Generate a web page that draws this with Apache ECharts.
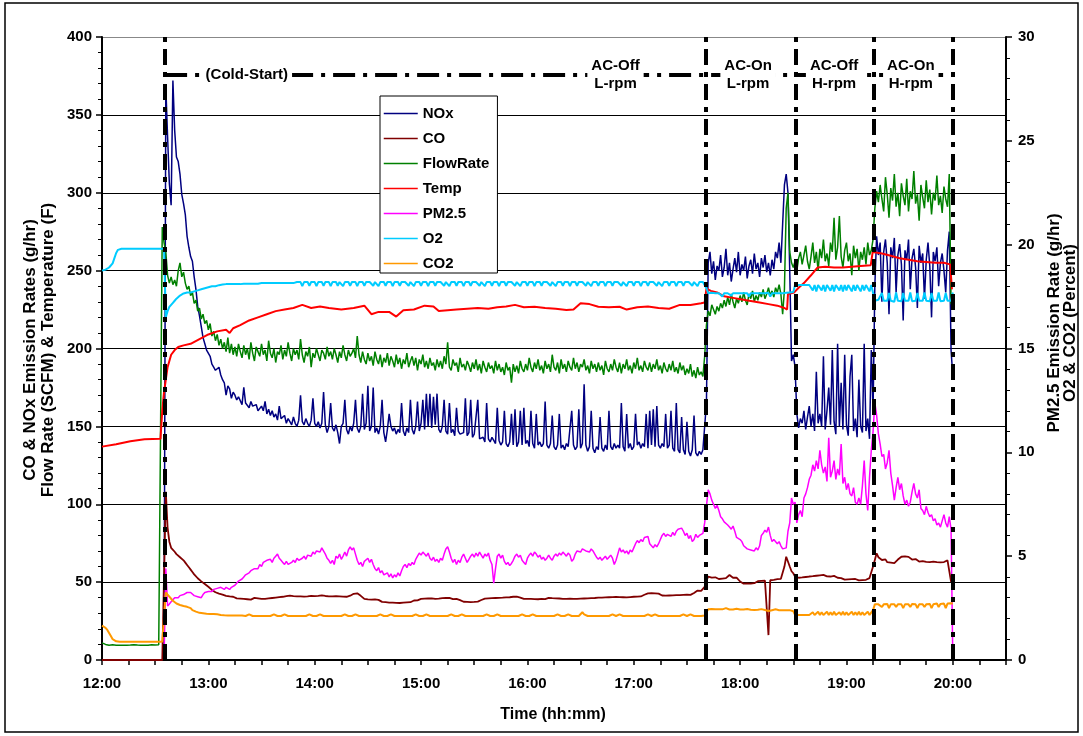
<!DOCTYPE html>
<html><head><meta charset="utf-8">
<script src="https://cdn.jsdelivr.net/npm/echarts@6/dist/echarts.min.js"></script>
<style>html,body{margin:0;padding:0;background:#fff}#c{width:1083px;height:736px}</style>
</head><body><div id="c"></div>
<script>
const FONT = '"Liberation Sans", Arial, Helvetica, sans-serif';

// x categories: minutes after 12:00, one reading per minute (12:00 .. 20:00)
const minutes = Array.from({length: 481}, (_, i) => i);
const hourLabels = ['12:00','13:00','14:00','15:00','16:00','17:00','18:00','19:00','20:00'];
const seriesNames = ['NOx','CO','FlowRate','Temp','PM2.5','O2','CO2'];
const seriesColors = ['#000080','#800000','#008000','#FF0000','#FF00FF','#00CCFF','#FF9900'];

// NOx (g/hr), left axis
const noxValues = [
null,null,null,null,null,null,null,null,null,null,
null,null,null,null,null,null,null,null,null,null,
null,null,null,null,null,null,null,null,null,null,
null,null,null,null,0,2,368,336,306,292,
372,340,323,320,312,299,293,286,272,265,
259,256,246,238,227,221,214,207,203,199,
198,195,190,188,186,185,188,183,180,178,
170,176,174,168,172,170,167,169,168,164,
175,165,164,162,166,163,162,164,160,161,
163,160,166,158,161,157,160,156,158,154,
163,155,154,157,152,155,153,151,156,152,
150,154,170,153,151,155,152,150,154,168,
152,150,153,149,152,172,151,146,150,165,
149,147,151,146,139,150,152,167,148,145,
150,147,152,167,149,146,150,171,148,152,
176,147,150,175,146,149,145,150,167,146,
140,148,158,150,147,149,145,148,146,165,
147,144,149,146,167,148,145,150,166,147,
152,167,148,171,150,171,149,169,151,171,
148,146,150,167,147,145,165,146,148,144,
162,147,145,144,146,168,144,146,167,143,
145,144,167,142,141,143,140,165,142,140,
143,141,139,162,141,138,140,160,139,137,
140,158,138,161,137,140,160,138,162,139,
141,137,160,139,136,158,138,140,137,139,
166,138,136,139,157,137,135,138,158,136,
138,135,139,137,136,160,138,135,137,161,
136,139,177,138,134,137,160,136,133,137,
135,156,136,134,138,135,160,137,135,139,
136,138,136,165,137,134,158,136,139,135,
137,158,138,140,136,139,137,158,136,160,
138,161,137,163,138,136,139,137,158,136,
138,160,136,134,165,135,133,156,135,132,
153,134,131,135,157,133,131,134,132,135,
136,165,255,262,248,256,244,253,250,260,
246,252,264,247,255,243,251,258,249,262,
247,254,250,259,245,253,257,248,261,251,
255,246,258,252,260,249,255,247,257,251,
262,258,268,255,280,305,312,300,250,192,
196,188,158,149,155,152,160,148,156,163,
150,158,147,185,152,158,150,195,148,160,
175,151,199,153,145,203,150,178,148,196,
151,144,182,196,147,155,143,180,150,146,
203,147,155,142,199,160,240,272,260,268,
230,262,270,255,222,265,258,271,236,260,
267,254,218,263,257,270,238,258,264,252,
226,266,255,261,232,257,268,253,220,262,
256,265,240,255,261,250,236,263,275,199,
182];

// CO (g/hr), left axis
const coValues = [
0,0,0,0,0,0,0,0,0,0,
0,0,0,0,0,0,0,0,0,0,
0,0,0,0,0,0,0,0,0,0,
0,0,0,0,0,0,108,85,76,72,
71,69.5,68,67,66,65,64,62.5,61,59.5,
58,56.5,55,54,52.5,51.5,50.5,49.8,48.8,47.8,
47,46,45,44.2,43.5,43,42.6,42.3,42,41.5,
41.2,41,40.8,40.4,40.6,40,39.6,40,39.4,39.8,
39.2,39.6,39,39.5,38.8,39.4,39.9,39.1,39.6,38.9,
39.3,39.8,39.2,40,39.5,40.3,39.8,40.5,40.1,40.8,
40.4,41.2,40.6,41.5,41,42,41.3,41.8,41,40.5,
40.8,40.2,40.9,41.4,40.7,41.3,40.9,41.8,41.2,41.6,
41,41.7,41.2,42,41.5,41.9,41.1,40.6,40.9,40.3,
40.8,40.2,41,40.5,40.9,40.3,40.7,40.1,40.6,40.9,
41.3,41.9,42.5,42.2,42.8,42.1,41.2,40.1,39.2,38.7,
38.9,38.3,38.8,38.4,38.9,38.2,38.6,37.8,37.3,37.7,
37.1,37.5,36.9,37.4,36.8,37.3,36.7,37.2,36.6,37.1,
36.8,37.4,37.0,37.6,37.1,37.8,38.2,38.7,38.3,38.9,
39.2,38.8,39.4,38.9,39.5,39.0,39.6,39.1,39.3,38.8,
39.4,39.0,39.7,39.2,39.8,39.3,39.9,39.4,39.1,39.6,
39.2,38.8,38.4,37.8,37.4,37.9,37.3,37.8,37.2,37.7,
37.3,37.9,37.5,38.0,38.5,39.0,39.4,39.1,39.6,39.3,
39.7,39.2,39.8,39.4,39.9,39.5,40.0,39.6,40.2,39.8,
40.3,40.0,40.6,40.2,40.7,40.3,40.1,39.6,39.2,39.7,
39.3,39.8,39.2,39.6,39.1,39.5,39.0,39.6,39.2,39.7,
39.1,39.5,39.9,39.3,39.7,39.2,39.6,39.1,39.5,39.8,
39.3,39.7,39.2,39.8,39.4,39.9,39.3,39.7,39.2,39.6,
39.4,39.9,39.5,40.0,39.6,40.1,39.7,40.2,39.8,40.3,
40.0,40.5,40.1,40.6,40.2,40.7,40.3,40.8,40.4,40.9,
40.5,40.9,40.4,40.8,40.3,40.7,40.2,40.8,40.4,40.9,
40.6,41.1,40.7,41.2,40.8,41.5,41.9,42.4,42.8,42.3,
42.9,42.4,42.8,42.2,42.6,41.9,41.4,41.9,41.3,41.8,
41.4,41.9,41.5,42.0,41.6,42.1,41.7,42.2,41.8,42.3,
41.9,42.4,41.8,42.2,43.0,43.8,44.6,45.0,44.4,44.2,
47,51,53.5,52.4,52.9,52.2,53.1,52.5,52.0,52.8,
52.3,53.0,52.6,53.4,54.6,53.5,52.8,52.4,52.9,51.8,
50.4,49.6,49.0,48.6,49.2,48.4,49.0,48.5,49.3,49.8,
50.6,51.2,50.8,51.4,51.0,51.6,16,51.2,52.0,51.5,
52.4,51.9,52.6,52.1,53.0,60,66.3,65.5,60,57,
55.7,53.5,52.4,52.8,52.2,53.0,52.5,53.3,54.0,53.6,
54.3,53.8,54.6,54.1,53.5,54.4,53.9,54.7,54.2,53.7,
54.5,53.6,53.2,54.0,53.4,52.8,53.5,52.6,52.0,51.6,
51.2,51.8,51.3,51.9,51.4,52.0,51.5,51.1,51.7,51.3,
51.9,51.5,52.2,52.6,53.5,60,64.2,68.5,66,65,
64.2,63.5,64.6,62.8,63.9,62.5,63.4,62.2,63.0,64.5,
65.5,66.3,65.8,66.5,65.6,66.2,65.0,64.5,63.8,64.8,
64.0,63.2,64.3,63.5,64.1,63.0,63.8,62.9,63.6,63.1,
63.7,62.8,63.4,62.7,63.5,62.9,63.3,64.0,65.0,50.3,
50];

// Flow rate (SCFM), left axis
const flowValues = [
11,10.5,10,10,9.5,9.5,9.8,9.5,9.5,9.8,
9.5,9.6,9.5,9.8,9.5,9.5,9.6,9.5,9.8,9.5,
9.6,9.5,9.5,9.8,9.5,9.6,9.5,9.5,9.8,9.5,
9.6,9.5,9.8,10,278,268,262,247,242,246,
241,244,240,250,255,246,249,242,238,240,
234,236,229,231,224,226,219,222,216,218,
212,216,208,211,205,209,202,206,200,204,
198,207,197,203,196,201,195,203,198,194,
202,196,200,193,204,197,192,201,198,195,
203,196,199,192,205,197,194,200,191,198,
196,202,193,199,195,204,197,192,200,196,
199,193,206,196,191,198,195,201,188,197,
194,200,196,192,199,197,193,201,195,198,
193,200,196,191,198,194,202,196,192,199,
195,197,200,194,208,196,191,198,193,190,
197,192,195,189,198,193,190,196,188,194,
191,197,189,195,192,188,196,190,194,187,
193,190,197,188,192,195,189,194,186,193,
190,196,188,192,187,194,189,191,186,193,
188,192,187,195,190,204,188,186,193,189,
191,185,194,188,190,186,192,189,185,191,
187,193,186,190,184,192,188,185,191,187,
189,184,192,186,190,185,188,183,191,186,
188,178,190,185,189,184,192,187,185,190,
186,194,188,185,191,187,193,186,189,184,
192,187,190,185,196,188,186,191,184,193,
187,190,185,192,188,186,194,187,191,185,
190,188,193,186,189,184,192,187,190,185,
191,186,189,183,192,187,185,190,186,193,
188,185,191,184,190,187,193,186,189,184,
191,187,194,186,189,185,192,188,186,191,
185,190,187,193,186,189,184,191,187,185,
190,186,192,185,188,184,191,186,189,183,
187,184,190,182,186,181,188,183,185,182,
195,215,224,221,228,225,222,227,224,229,
226,231,227,233,228,235,230,226,232,229,
234,230,236,231,228,235,232,237,230,234,
231,236,233,238,232,235,239,234,237,233,
239,236,241,235,222,238,290,300,262,255,
252,256,250,258,262,254,260,266,256,251,
259,268,255,262,250,264,258,270,256,261,
253,268,262,284,257,265,285,259,252,263,
268,256,261,247,266,258,264,250,262,257,
265,254,268,260,263,270,290,301,294,305,
296,288,310,299,284,303,295,312,291,300,
285,306,298,292,309,288,301,296,314,293,
299,282,305,297,290,308,294,302,286,300,
295,311,292,298,287,304,296,291,312,229,
226];

// Exhaust temperature (F), left axis: read at irregular times (minutes after 12:00)
const tempTimes = [0,8,16,24,33,34,35,36,37,39,41,43,46,50,55,60,65,70,72,74,78,83,88,93,98,103,108,113,118,123,128,135,142,148,152,156,162,166,170,176,182,187,190,195,200,206,212,218,223,228,233,238,244,250,256,262,266,270,275,280,286,292,296,302,308,314,320,326,332,338,340,341,343.5,347,351,356,361,366,371,376,381,385,386.5,387,390.5,393,396,400,403.6,408,413,418,423,428,433.7,434.8,440,445,450,455,460,465,470,475,478.5,479.5];
const tempValues = [137,138.5,140.5,141.8,142,160,172,180,188,196,199,201,202,203,206,209,211,212,210,213,215,218,220,222,224,225,226,228,226,227,226,225,226,227.5,222,223.5,223.5,220.5,224.5,225,227.5,227,224,224.5,225,225.5,226,225.5,226.5,227,228,226.5,226.8,226,225.5,224.7,225,229,228.5,226.8,226.5,226.8,225,226.5,227,226,225.5,228,228,229,229.5,238.5,237,236,233.5,232.5,231.5,230.5,229.5,228.5,227.5,226,225,235,236,239,242,247,252,252.5,252,252,252.5,253,253.5,262,261,259.5,258,257,256,255.5,255,255,254,238];

// PM2.5 (g/hr), right axis
const pmValues = [
null,null,null,null,null,null,null,null,null,null,
null,null,null,null,null,null,null,null,null,null,
null,null,null,null,null,null,null,null,null,null,
null,null,null,null,null,0,4.4,2.6,2.7,2.8,
2.9,3.0,2.95,3.0,3.1,3.1,3.15,3.2,3.25,3.2,
3.25,3.2,3.1,3.15,3.05,3.1,3.0,3.15,3.25,3.2,
3.3,3.25,3.3,3.4,3.35,3.45,3.4,3.5,3.45,3.4,
3.5,3.45,3.4,3.5,3.45,3.6,3.7,3.8,3.85,3.9,
4.0,4.1,4.05,4.2,4.3,4.25,4.4,4.45,4.4,4.6,
4.5,4.7,4.65,4.8,4.75,4.85,4.7,4.9,5.0,5.1,
4.9,4.8,4.7,4.6,4.75,4.6,4.55,4.7,4.8,4.7,
4.9,4.8,4.75,4.9,5.0,4.85,5.05,5.1,5.0,5.2,
5.1,5.25,5.3,5.2,5.4,5.35,5.1,4.9,4.8,4.65,
4.8,4.6,5.0,4.9,5.1,4.85,5.0,5.2,5.0,5.3,
5.45,5.3,5.4,5.1,4.8,4.6,4.7,4.5,4.75,4.8,
4.9,4.7,4.85,4.6,4.4,4.3,4.45,4.2,4.3,4.1,
4.05,4.2,4.0,4.15,3.95,4.1,4.0,4.2,4.05,4.3,
4.5,4.6,4.45,4.65,4.55,4.7,4.6,4.85,5.0,5.15,
5.05,5.2,5.1,5.0,5.15,4.9,4.8,4.95,4.75,4.85,
4.7,4.9,4.8,5.1,5.35,5.45,5.2,4.9,4.7,4.85,
4.6,4.8,4.7,4.95,5.1,4.9,4.7,4.85,5.0,5.1,
4.95,5.15,5.0,5.2,5.05,4.9,5.1,5.0,5.15,4.8,
4.6,3.7,4.4,5.0,5.1,4.9,5.05,4.75,4.6,4.7,
4.55,4.65,4.8,5.0,5.1,4.95,5.05,4.8,4.7,4.6,
4.9,5.05,5.15,5.0,5.2,5.1,4.95,5.05,4.85,4.95,
4.8,4.9,5.05,4.9,4.8,5.0,5.1,5.0,5.15,5.05,
5.2,5.1,5.0,5.15,5.05,4.75,4.85,5.1,5.25,5.3,
5.2,5.35,5.4,5.25,5.3,5.2,5.35,5.25,5.1,4.95,
4.85,4.95,4.8,4.9,5.0,4.85,4.95,5.05,4.9,4.6,
4.8,5.1,5.4,5.2,5.3,5.15,5.25,5.1,5.3,5.2,
5.4,5.6,5.75,5.65,5.8,5.7,5.9,5.85,5.95,5.6,
5.5,5.4,5.55,5.45,5.6,5.8,6.0,6.1,5.95,6.05,
6.1,5.95,6.15,6.0,6.2,6.3,6.25,6.35,6.2,6.0,
6.1,5.85,6.0,5.7,5.8,6.05,5.9,6.0,5.95,6.1,
6.6,7.4,8.2,8.0,7.7,7.5,7.3,7.45,7.2,6.9,
6.8,6.65,6.7,6.5,6.4,6.3,6.45,6.2,5.9,5.85,
5.8,5.7,5.5,5.45,5.35,5.4,5.3,5.35,5.25,5.4,
5.3,5.5,6.0,6.1,6.25,6.15,6.4,6.0,5.7,5.8,
5.75,5.6,5.7,5.5,5.35,5.3,5.4,6.2,6.6,7.8,
7.5,7.6,6.6,7.0,7.2,6.9,7.8,8.0,8.3,8.7,
8.9,9.4,9.1,9.6,9.2,10.1,9.4,9.0,9.3,8.6,
10.7,8.8,9.1,9.6,8.7,9.2,8.9,10.4,8.5,8.8,
8.2,8.5,8.0,7.9,8.3,7.6,7.5,7.8,7.5,8.4,
9.6,8.0,7.2,8.8,10.1,11.0,12.4,11.8,10.9,10.4,
9.8,9.9,9.2,9.5,10.1,9.0,8.4,7.7,8.3,8.8,
8.2,8.5,7.9,7.5,7.7,7.4,7.6,8.1,8.5,8.0,
7.8,8.2,7.3,7.2,7.0,7.4,7.1,6.9,7.0,6.7,
6.8,6.5,6.6,6.4,6.7,7.0,6.6,6.4,6.9,6.3,
0];

// O2 (percent), right axis
const o2Values = [
18.75,18.78,18.8,18.85,18.9,18.95,19.1,19.35,19.6,19.75,
19.8,19.8,19.8,19.8,19.8,19.8,19.8,19.8,19.8,19.8,
19.8,19.8,19.8,19.8,19.8,19.8,19.8,19.8,19.8,19.8,
19.8,19.8,19.8,19.8,19.8,19.8,16.5,16.8,17.0,17.1,
17.2,17.3,17.4,17.45,17.55,17.6,17.65,17.65,17.7,17.7,
17.7,17.7,17.75,17.8,17.8,17.8,17.85,17.9,17.9,17.9,
17.95,17.98,18.0,18.0,18.0,18.05,18.05,18.05,18.08,18.1,
18.1,18.1,18.1,18.1,18.1,18.1,18.1,18.1,18.1,18.1,
18.12,18.12,18.12,18.12,18.12,18.12,18.12,18.12,18.12,18.12,
18.15,18.15,18.15,18.15,18.15,18.15,18.15,18.15,18.15,18.15,
18.15,18.15,18.15,18.15,18.15,18.15,18.15,18.15,18.15,18.15,
18.2,18.2,18.2,18.0,18.2,18.2,18.2,18.02,18.2,18.2,
18.2,18.0,18.2,18.2,18.2,18.02,18.2,18.2,18.2,18.0,
18.2,18.2,18.2,18.02,18.2,18.2,18.0,18.2,18.2,18.2,
18.02,18.2,18.2,18.2,18.0,18.2,18.2,18.2,18.02,18.2,
18.2,18.2,18.2,18.02,18.2,18.2,18.0,18.2,18.2,18.2,
18.02,18.2,18.2,18.2,18.0,18.2,18.2,18.2,18.02,18.2,
18.2,18.2,18.2,18.02,18.2,18.2,18.0,18.2,18.2,18.2,
18.02,18.2,18.2,18.2,18.0,18.2,18.2,18.2,18.02,18.2,
18.2,18.2,18.2,18.02,18.2,18.2,18.0,18.2,18.2,18.2,
18.02,18.2,18.2,18.2,18.0,18.2,18.2,18.2,18.02,18.2,
18.2,18.2,18.2,18.02,18.2,18.2,18.0,18.2,18.2,18.2,
18.02,18.2,18.2,18.2,18.0,18.2,18.2,18.2,18.02,18.2,
18.2,18.2,18.2,18.02,18.2,18.2,18.0,18.2,18.2,18.2,
18.02,18.2,18.2,18.2,18.0,18.2,18.2,18.2,18.02,18.2,
18.2,18.2,18.2,18.02,18.2,18.2,18.0,18.2,18.2,18.2,
18.02,18.2,18.2,18.2,18.0,18.2,18.2,18.2,18.02,18.2,
18.2,18.2,18.2,18.02,18.2,18.2,18.0,18.2,18.2,18.2,
18.02,18.2,18.2,18.2,18.0,18.2,18.2,18.2,18.02,18.2,
18.2,18.2,18.2,18.02,18.2,18.2,18.0,18.2,18.2,18.2,
18.02,18.2,18.2,18.2,18.0,18.2,18.2,18.2,18.02,18.2,
18.2,18.2,18.2,18.02,18.2,18.2,18.0,18.2,18.2,18.2,
18.02,18.2,18.2,18.2,18.0,18.2,18.2,18.2,18.02,18.2,
18.2,18.2,18.2,18.02,18.2,18.2,18.0,18.2,18.2,18.2,
18.2,17.9,17.66,17.66,17.68,17.66,17.66,17.68,17.66,17.66,
17.5,17.66,17.68,17.66,17.66,17.55,17.66,17.68,17.66,17.66,
17.66,17.68,17.66,17.66,17.66,17.5,17.66,17.68,17.66,17.66,
17.66,17.68,17.66,17.66,17.66,17.66,17.68,17.5,17.66,17.66,
17.66,17.68,17.66,17.66,17.66,17.66,17.68,17.66,17.7,17.72,
17.72,18.06,18.06,18.06,18.06,18.06,18.06,18.06,18.06,18.06,
18.06,17.8,18.06,17.75,18.06,18.06,17.8,18.06,17.75,18.06,
18.06,17.78,18.06,17.75,18.06,18.06,17.8,18.06,17.75,18.06,
17.8,18.06,18.06,17.75,18.06,17.78,18.06,18.06,17.75,18.06,
17.8,18.06,18.06,17.75,18.06,18.06,17.3,17.3,17.35,17.3,
17.68,17.3,17.28,17.3,17.68,17.3,17.3,17.25,17.7,17.3,
17.3,17.28,17.68,17.3,17.3,17.3,17.7,17.28,17.3,17.3,
17.68,17.3,17.25,17.3,17.7,17.3,17.3,17.28,17.68,17.3,
17.3,17.3,17.7,17.28,17.3,17.3,17.68,17.3,17.3,17.3,
17.7];

// CO2 (percent), right axis
const co2Values = [
1.65,1.6,1.55,1.45,1.3,1.15,1.0,0.92,0.9,0.88,
0.88,0.88,0.88,0.88,0.88,0.88,0.88,0.88,0.88,0.88,
0.88,0.88,0.88,0.88,0.88,0.88,0.88,0.88,0.88,0.88,
0.88,0.88,0.88,0.88,0.88,0.88,3.25,3.15,3.05,2.95,
2.85,2.78,2.72,2.68,2.65,2.62,2.6,2.58,2.56,2.55,
2.5,2.4,2.36,2.33,2.3,2.27,2.26,2.25,2.24,2.23,
2.22,2.22,2.22,2.22,2.22,2.2,2.18,2.17,2.16,2.15,
2.14,2.14,2.14,2.14,2.14,2.14,2.14,2.14,2.14,2.14,
2.12,2.12,2.12,2.2,2.12,2.12,2.12,2.12,2.2,2.12,
2.12,2.12,2.2,2.12,2.12,2.12,2.12,2.2,2.12,2.12,
2.12,2.12,2.12,2.2,2.12,2.12,2.12,2.12,2.2,2.12,
2.12,2.12,2.2,2.12,2.12,2.12,2.12,2.2,2.12,2.12,
2.12,2.12,2.12,2.2,2.12,2.12,2.12,2.12,2.2,2.12,
2.12,2.12,2.2,2.12,2.12,2.12,2.12,2.2,2.12,2.12,
2.12,2.12,2.12,2.2,2.12,2.12,2.12,2.12,2.2,2.12,
2.12,2.12,2.2,2.12,2.12,2.12,2.12,2.2,2.12,2.12,
2.12,2.12,2.12,2.2,2.12,2.12,2.12,2.12,2.2,2.12,
2.12,2.12,2.2,2.12,2.12,2.12,2.12,2.2,2.12,2.12,
2.12,2.12,2.12,2.2,2.12,2.12,2.12,2.12,2.2,2.12,
2.12,2.12,2.2,2.12,2.12,2.12,2.12,2.2,2.12,2.12,
2.12,2.12,2.12,2.2,2.12,2.12,2.12,2.12,2.2,2.12,
2.12,2.12,2.2,2.12,2.12,2.12,2.12,2.2,2.12,2.12,
2.12,2.12,2.12,2.2,2.12,2.12,2.12,2.12,2.2,2.12,
2.12,2.12,2.2,2.12,2.12,2.12,2.12,2.2,2.12,2.12,
2.12,2.12,2.12,2.2,2.12,2.12,2.12,2.12,2.2,2.12,
2.12,2.12,2.2,2.12,2.12,2.12,2.12,2.2,2.12,2.12,
2.12,2.12,2.12,2.2,2.12,2.12,2.12,2.12,2.2,2.12,
2.12,2.3,2.2,2.12,2.12,2.12,2.12,2.2,2.12,2.12,
2.12,2.12,2.12,2.2,2.12,2.12,2.12,2.12,2.2,2.12,
2.12,2.12,2.2,2.12,2.12,2.12,2.12,2.2,2.12,2.12,
2.12,2.12,2.12,2.2,2.12,2.12,2.12,2.12,2.2,2.12,
2.12,2.12,2.2,2.12,2.12,2.12,2.12,2.2,2.12,2.12,
2.12,2.12,2.12,2.2,2.12,2.12,2.12,2.12,2.2,2.12,
2.12,2.12,2.2,2.12,2.12,2.12,2.12,2.2,2.12,2.12,
2.14,2.3,2.44,2.44,2.45,2.44,2.44,2.46,2.44,2.44,
2.44,2.44,2.5,2.44,2.43,2.44,2.43,2.43,2.47,2.43,
2.43,2.42,2.43,2.42,2.46,2.42,2.42,2.42,2.41,2.42,
2.42,2.41,2.45,2.41,2.41,2.41,2.36,2.41,2.4,2.4,
2.44,2.4,2.4,2.4,2.4,2.43,2.4,2.4,2.4,2.4,
2.35,2.17,2.17,2.17,2.17,2.17,2.17,2.17,2.17,2.17,
2.17,2.3,2.17,2.17,2.32,2.17,2.3,2.17,2.17,2.32,
2.17,2.3,2.17,2.32,2.17,2.17,2.3,2.17,2.32,2.17,
2.3,2.17,2.17,2.32,2.17,2.3,2.17,2.32,2.17,2.3,
2.17,2.17,2.32,2.17,2.17,2.4,2.68,2.7,2.68,2.68,
2.55,2.68,2.68,2.7,2.5,2.68,2.68,2.68,2.55,2.68,
2.7,2.68,2.5,2.68,2.68,2.68,2.55,2.7,2.68,2.68,
2.5,2.68,2.7,2.68,2.55,2.68,2.68,2.7,2.5,2.68,
2.68,2.72,2.55,2.7,2.72,2.72,2.5,2.72,2.73,2.73,
2.72];

// test-phase boundaries (minutes after 12:00) and the labels written above them
const phaseBoundaries = [35.6, 340.5, 391.3, 435.4, 480];
const phaseBarLevel = 375.5;
const phaseLabels = ['(Cold-Start)', 'AC-Off\nL-rpm', 'AC-On\nL-rpm', 'AC-Off\nH-rpm', 'AC-On\nH-rpm'];
const phaseLabelTimes = [81.7, 289.7, 364.5, 413, 456.3];

const dense = [noxValues, coValues, flowValues, null, pmValues, o2Values, co2Values];
dense.forEach((a, i) => { if (a && a.length !== minutes.length) console.error('length', seriesNames[i], a.length); });
if (tempTimes.length !== tempValues.length) console.error('temp length', tempTimes.length, tempValues.length);

const pairs = vals => minutes.map((m, i) => [m, vals[i]]);
const tempData = tempTimes.map((t, i) => [t, tempValues[i]]);

const chart = echarts.init(document.getElementById('c'), null, {renderer: 'canvas'});
const widths = [1.5, 1.8, 1.5, 2, 1.5, 2, 2];
const yIdx = [0, 0, 0, 0, 1, 1, 1];
const dataSets = [pairs(noxValues), pairs(coValues), pairs(flowValues), tempData, pairs(pmValues), pairs(o2Values), pairs(co2Values)];

const lineSeries = seriesNames.map((n, i) => ({
  type: 'line', name: n, data: dataSets[i], yAxisIndex: yIdx[i],
  symbol: 'none', showSymbol: false, connectNulls: false, sampling: null,
  lineStyle: {color: seriesColors[i], width: widths[i]}, itemStyle: {color: seriesColors[i]},
  z: 2 + i * 0.01, animation: false, silent: true
}));

const axisLabelStyle = {fontFamily: FONT, fontSize: 15, fontWeight: 'bold', color: '#000'};

chart.setOption({
  animation: false,
  backgroundColor: '#fff',
  grid: {left: 102, right: 77, top: 37, bottom: 76, containLabel: false},
  legend: {
    data: seriesNames, orient: 'vertical', left: 380, top: 96,
    itemWidth: 34, itemHeight: 14, itemGap: 10, padding: [10, 8, 2, 3],
    backgroundColor: '#fff', borderColor: '#000', borderWidth: 1, borderRadius: 0,
    itemStyle: {opacity: 0},
    lineStyle: {width: 1.5},
    textStyle: {fontFamily: FONT, fontSize: 15, fontWeight: 'bold', color: '#000'},
    selectedMode: false, z: 5
  },
  xAxis: {
    type: 'value', min: 0, max: 510, interval: 15,
    axisLine: {show: true, onZero: false, lineStyle: {color: '#000', width: 2}},
    axisTick: {show: true, inside: false, length: 5, lineStyle: {color: '#000', width: 1.5}},
    axisLabel: Object.assign({margin: 16, formatter: v => (v % 60 === 0 && v <= 480) ? hourLabels[v / 60] : ''}, axisLabelStyle),
    splitLine: {show: false}
  },
  yAxis: [
    {
      type: 'value', min: 0, max: 400, interval: 50, position: 'left',
      axisLine: {show: true, lineStyle: {color: '#000', width: 2}},
      axisTick: {show: true, inside: false, length: 6, lineStyle: {color: '#000', width: 1.5}},
      minorTick: {show: true, splitNumber: 5, length: 4, lineStyle: {color: '#000', width: 1}},
      axisLabel: Object.assign({margin: 10}, axisLabelStyle),
      splitLine: {show: true, lineStyle: {color: ['#000','#000','#000','#000','#000','#000','#000','#000','#888'], width: 1.2}}
    },
    {
      type: 'value', min: 0, max: 30, interval: 5, position: 'right',
      axisLine: {show: true, lineStyle: {color: '#000', width: 2}},
      axisTick: {show: true, inside: false, length: 6, lineStyle: {color: '#000', width: 1.5}},
      minorTick: {show: true, splitNumber: 5, length: 4, lineStyle: {color: '#000', width: 1}},
      axisLabel: Object.assign({margin: 12}, axisLabelStyle),
      splitLine: {show: false}
    }
  ],
  series: [
    ...lineSeries,
    {
      type: 'line', name: 'phase-lines', data: [], yAxisIndex: 0, silent: true, z: 10,
      markLine: {
        symbol: 'none', silent: true, animation: false, label: {show: false},
        lineStyle: {color: '#000', width: 4, type: [16, 7, 5, 7]},
        data: [
          ...phaseBoundaries.map(t => ({xAxis: t})),
          [{coord: [phaseBoundaries[0], phaseBarLevel], lineStyle: {type: [22, 8, 4, 8]}},
           {coord: [phaseBoundaries[phaseBoundaries.length - 1], phaseBarLevel]}]
        ]
      }
    },
    {
      type: 'scatter', name: 'phase-labels', yAxisIndex: 0, silent: true, z: 20, zlevel: 1,
      symbol: 'rect', symbolSize: 1, itemStyle: {color: '#fff', opacity: 1},
      data: phaseLabels.map((txt, i) => ({name: txt, value: [phaseLabelTimes[i], phaseBarLevel]})),
      label: {
        show: true, position: 'inside', formatter: '{b}', align: 'center', opacity: 1,
        fontFamily: FONT, fontSize: 15, fontWeight: 'bold', color: '#000',
        lineHeight: 18, backgroundColor: '#fff', padding: [0, 4]
      },
      labelLayout: {hideOverlap: false}
    }
  ],
  graphic: [
    {type: 'rect', shape: {x: 5, y: 3, width: 1073, height: 729}, style: {fill: null, stroke: '#000', lineWidth: 1.5}, silent: true, z: 100},
    {type: 'text', x: 30, y: 350, rotation: Math.PI / 2, silent: true,
      style: {text: 'CO & NOx Emission Rates (g/hr)', fontFamily: FONT, fontSize: 17, fontWeight: 'bold', fill: '#000', align: 'center', verticalAlign: 'middle'}},
    {type: 'text', x: 48, y: 350, rotation: Math.PI / 2, silent: true,
      style: {text: 'Flow Rate (SCFM) & Temperature (F)', fontFamily: FONT, fontSize: 17, fontWeight: 'bold', fill: '#000', align: 'center', verticalAlign: 'middle'}},
    {type: 'text', x: 1054, y: 323, rotation: Math.PI / 2, silent: true,
      style: {text: 'PM2.5 Emission Rate (g/hr)', fontFamily: FONT, fontSize: 17, fontWeight: 'bold', fill: '#000', align: 'center', verticalAlign: 'middle'}},
    {type: 'text', x: 1070, y: 323, rotation: Math.PI / 2, silent: true,
      style: {text: 'O2 & CO2 (Percent)', fontFamily: FONT, fontSize: 17, fontWeight: 'bold', fill: '#000', align: 'center', verticalAlign: 'middle'}},
    {type: 'text', x: 553, y: 715, silent: true,
      style: {text: 'Time (hh:mm)', fontFamily: FONT, fontSize: 16, fontWeight: 'bold', fill: '#000', align: 'center', verticalAlign: 'middle'}}
  ]
});
</script>
</body></html>
